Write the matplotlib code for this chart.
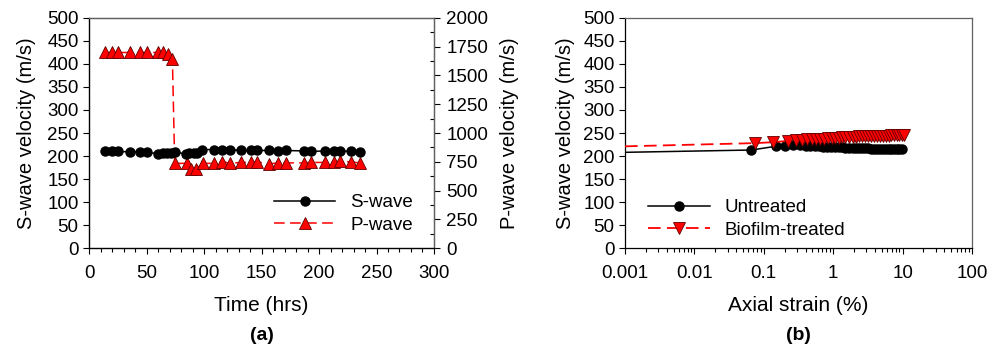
import matplotlib
matplotlib.use("Agg")
import matplotlib.pyplot as plt
from matplotlib.ticker import MultipleLocator, FixedLocator, FixedFormatter, LogLocator, NullFormatter

plt.rcParams['font.family'] = ['Liberation Sans', 'DejaVu Sans']

# panel (a) - velocity vs time
s_time = [14, 19.7, 25.5, 35.7, 44.3, 50.7, 60, 64, 67.5, 71, 74.5, 84, 87, 91, 93.6, 98,
          108.7, 116, 122.6, 132, 140.6, 145.8, 156.8, 164.6, 171, 187, 192.8, 205, 213, 218, 228, 236]
s_vel = [210, 210, 210, 209, 209, 208, 205, 206, 207, 207, 208, 205, 206, 207, 207, 214,
         214, 214, 214, 212, 212, 212, 212, 211, 212, 211, 210, 211, 211, 211, 210, 209]
p_time = [14, 19.7, 25.5, 35.7, 44.3, 50.7, 60, 64, 68.5, 72.5, 74.5, 85, 88.5, 93, 98.8,
          108.7, 116, 122.6, 132, 140.6, 145.8, 156.8, 164.6, 171, 187, 192.8, 205, 213, 218, 228, 236]
p_vel = [1700, 1700, 1700, 1700, 1700, 1700, 1700, 1700, 1690, 1640, 736, 736, 684, 684, 736,
         736, 752, 736, 744, 744, 748, 732, 740, 740, 740, 744, 744, 744, 756, 748, 740]

# panel (b) - velocity vs axial strain
u_strain = [0.001, 0.066, 0.148, 0.20, 0.265, 0.33, 0.40, 0.47, 0.55, 0.63, 0.72, 0.82, 0.93, 1.05,
            1.2, 1.35, 1.5, 1.7, 1.9, 2.1, 2.35, 2.6, 2.9, 3.2, 3.5, 3.9, 4.3, 4.7, 5.2, 5.7,
            6.3, 6.9, 7.5, 8.2, 9.0, 9.8]
u_vel = [208, 213, 221, 222, 223, 223, 222.5, 222, 221.5, 221, 220.5, 220, 219.5, 219,
         218.5, 218.5, 218, 218, 217.5, 217.5, 217, 217, 216.5, 216.5, 216, 216, 216, 215.5,
         215.5, 215.5, 215, 215, 215, 215, 215, 215]
b_strain = [0.001, 0.075, 0.136, 0.224, 0.29, 0.35, 0.42, 0.49, 0.57, 0.65, 0.74, 0.84, 0.95,
            1.07, 1.2, 1.35, 1.5, 1.7, 1.9, 2.1, 2.35, 2.6, 2.9, 3.2, 3.5, 3.9, 4.3, 4.7,
            5.2, 5.7, 6.3, 6.9, 7.5, 8.2, 9.0, 9.8, 10.6]
b_vel = [221, 228, 230, 233, 234, 235, 236, 236.5, 237, 237.5, 238, 238.5, 239, 239.5, 240,
         240.5, 241, 241.5, 242, 242, 242.5, 243, 243, 243.5, 243.5, 244, 244, 244, 244.5,
         244.5, 244.5, 245, 245, 245, 245, 245, 245]

fs = 13.5   # tick labels / legend
lfs = 14.5  # axis labels
fig = plt.figure(figsize=(9.97, 3.5), dpi=100)
ax1 = fig.add_axes([0.0893, 0.2914, 0.346, 0.6572])
ax2 = ax1.twinx()
axb = fig.add_axes([0.6269, 0.2914, 0.348, 0.6572])

dash = (0, (7, 3.5))

# ---- panel a
l1, = ax1.plot(s_time, s_vel, color='black', lw=1.1, marker='o', ms=6.5, mfc='black', mec='black',
               label='S-wave', zorder=3)
l2, = ax2.plot(p_time, p_vel, color='red', lw=1.1, ls=dash, marker='^', ms=8, mfc='red',
               mec='#600000', mew=0.6, label='P-wave', zorder=2)
ax1.set_zorder(ax2.get_zorder() + 1)
ax1.patch.set_visible(False)

ax1.set_xlim(0, 300)
ax1.set_ylim(0, 500)
ax2.set_ylim(0, 2000)
ax1.xaxis.set_major_locator(MultipleLocator(50))
ax1.xaxis.set_minor_locator(MultipleLocator(10))
ax1.yaxis.set_major_locator(MultipleLocator(50))
ax2.yaxis.set_major_locator(MultipleLocator(250))
ax2.yaxis.set_minor_locator(MultipleLocator(125))
ax1.tick_params(axis='both', which='major', labelsize=fs, direction='out', length=4, width=0.8)
ax1.tick_params(axis='x', which='major', pad=8)
ax1.tick_params(axis='x', which='minor', direction='out', length=3, width=0.8)
ax2.tick_params(axis='y', which='major', labelsize=fs, direction='out', length=4, width=0.8, pad=5)
ax2.tick_params(axis='y', which='minor', direction='in', length=3, width=0.8)
ax1.set_xlabel('Time (hrs)', fontsize=lfs + 0.5, labelpad=10)
ax1.set_ylabel('S-wave velocity (m/s)', fontsize=lfs, labelpad=8)
ax2.set_ylabel('P-wave velocity (m/s)', fontsize=lfs, labelpad=8)
ax1.text(0.5, -0.345, '(a)', transform=ax1.transAxes, ha='center', va='top', fontsize=14,
         fontweight='bold')
for a in (ax1, ax2):
    for s in a.spines.values():
        s.set_linewidth(0.9)
        s.set_color('#606060')
ax1.spines['left'].set_color('black')
ax1.spines['bottom'].set_color('black')

ax1.legend(handles=[l1, l2], loc='center left', bbox_to_anchor=(0.535, 0.148), frameon=False,
           fontsize=fs, handlelength=3.3, handletextpad=0.8, labelspacing=0.3, borderpad=0,
           borderaxespad=0)

# ---- panel b
lu, = axb.plot(u_strain, u_vel, color='black', lw=1.1, marker='o', ms=6.5, mfc='black',
               mec='black', markevery=list(range(1, len(u_strain))), label='Untreated', zorder=2)
lb, = axb.plot(b_strain, b_vel, color='red', lw=1.3, ls=dash, marker='v', ms=8, mfc='red',
               mec='#600000', mew=0.6, markevery=list(range(1, len(b_strain))),
               label='Biofilm-treated', zorder=3)
axb.set_xscale('log')
axb.set_xlim(0.001, 100)
axb.set_ylim(0, 500)
axb.yaxis.set_major_locator(MultipleLocator(50))
xt = [0.001, 0.01, 0.1, 1, 10, 100]
axb.xaxis.set_major_locator(FixedLocator(xt))
axb.xaxis.set_major_formatter(FixedFormatter(['0.001', '0.01', '0.1', '1', '10', '100']))
axb.xaxis.set_minor_locator(LogLocator(base=10, subs=range(2, 10)))
axb.xaxis.set_minor_formatter(NullFormatter())
axb.tick_params(axis='both', which='major', labelsize=fs, direction='out', length=4, width=0.8)
axb.tick_params(axis='x', which='major', pad=8)
axb.tick_params(axis='x', which='minor', direction='out', length=3, width=0.8)
axb.set_xlabel('Axial strain (%)', fontsize=lfs + 0.5, labelpad=10)
axb.set_ylabel('S-wave velocity (m/s)', fontsize=lfs, labelpad=6)
axb.text(0.5, -0.345, '(b)', transform=axb.transAxes, ha='center', va='top', fontsize=14,
         fontweight='bold')
for s in axb.spines.values():
    s.set_linewidth(0.9)
    s.set_color('#606060')
axb.spines['left'].set_color('black')
axb.spines['bottom'].set_color('black')
axb.legend(handles=[lu, lb], loc='center left', bbox_to_anchor=(0.066, 0.126), frameon=False,
           fontsize=fs, handlelength=3.3, handletextpad=0.8, labelspacing=0.3, borderpad=0,
           borderaxespad=0)

fig.savefig('out.png', dpi=100)
